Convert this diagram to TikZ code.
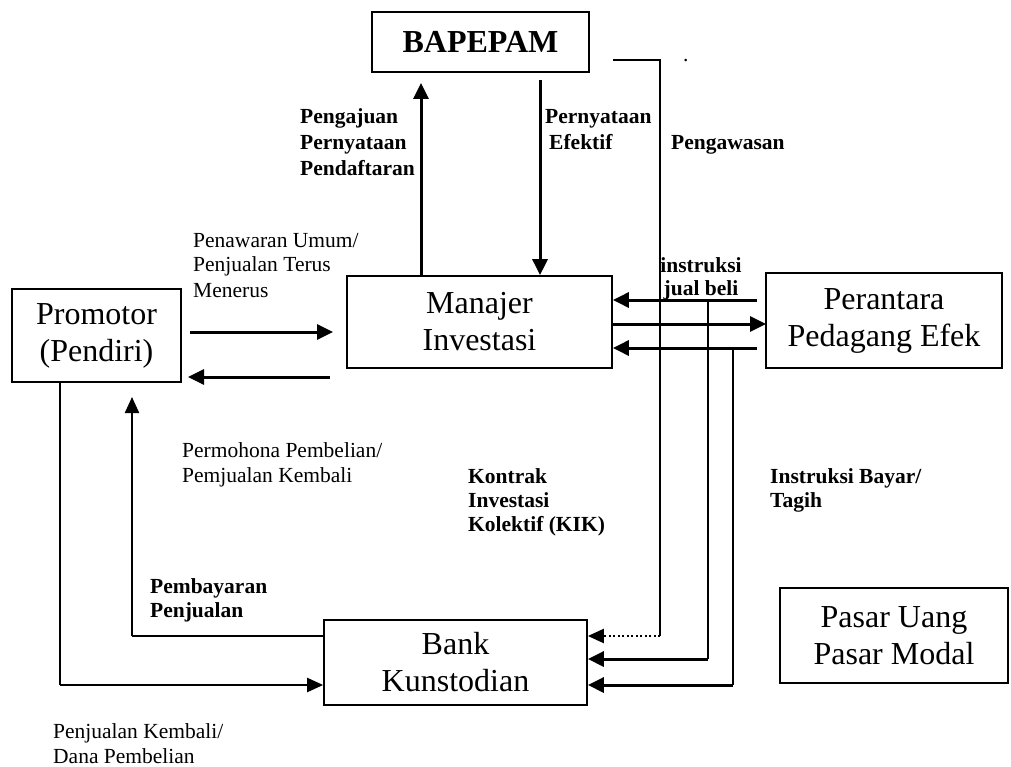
\documentclass[tikz,border=0pt]{standalone}
\usepackage{fontspec}
\setmainfont{Liberation Serif}
\usetikzlibrary{arrows.meta}
\begin{document}
\begin{tikzpicture}[x=1pt,y=-1pt,
 box/.style={draw,line width=1.7pt,inner sep=0pt,font=\fontsize{32}{37}\selectfont,align=center},
 lbl/.style={anchor=base west,align=left,inner sep=0pt,font=\fontsize{21.5}{25}\selectfont},
 blbl/.style={anchor=base west,align=left,inner sep=0pt,font=\fontsize{21.5}{26}\selectfont\bfseries},
 arr/.style={line width=3pt,-{Triangle[length=16pt,width=15pt]}},
 arrt/.style={line width=2.2pt,-{Triangle[length=16pt,width=14pt]}},
 ln/.style={line width=1.9pt},
 dotarr/.style={line width=2.2pt,dash pattern=on 2pt off 2.5pt,-{Triangle[length=16pt,width=14pt]}},
]
\useasboundingbox (0,0) rectangle (1011,767);
% boxes
\node[box,minimum width=217pt,minimum height=60pt] (bapepam) at (480.5,42) {\bfseries BAPEPAM};
\node[box,minimum width=265pt,minimum height=92pt] (manajer) at (479.5,322) {Manajer\\Investasi};
\node[box,minimum width=169pt,minimum height=93pt] (promotor) at (96.5,335.5) {Promotor\\(Pendiri)};
\node[box,minimum width=236pt,minimum height=95pt] (perantara) at (884,320.5) {Perantara\\Pedagang Efek};
\node[box,minimum width=263pt,minimum height=85pt] (bank) at (455.5,662.5) {Bank\\Kunstodian};
\node[box,minimum width=228pt,minimum height=95pt] (pasar) at (894,635.5) {Pasar Uang\\Pasar Modal};
% coordinates
\coordinate (pa) at (421,83);
\coordinate (ea) at (540,80);
\coordinate (w0) at (613,60);
\coordinate (w1) at (660,60);
\coordinate (w2) at (660,636);
\coordinate (r1) at (757,300);
\coordinate (r2) at (612,324);
\coordinate (r2e) at (766,324);
\coordinate (r3) at (757,348);
\coordinate (v1) at (708,659);
\coordinate (v2) at (733,685);
\coordinate (pm1) at (190,332);
\coordinate (pm1e) at (333,332);
\coordinate (pm2) at (330,377);
\coordinate (pm2e) at (188,377);
\coordinate (pb) at (60,685);
\coordinate (py) at (132,636);
\coordinate (pyt) at (132,397);
% BAPEPAM arrows
\draw[arr] (pa |- manajer.north) -- (pa);
\draw[arr] (ea) -- (ea |- manajer.north);
% Pengawasan
\draw[ln] (w0) -- (w1) -- (w2);
\draw[dotarr] (w2) -- (w2 -| bank.east);
% Manajer <-> Perantara
\draw[arr] (r1) -- (r1 -| manajer.east);
\draw[arr] (r2) -- (r2e);
\draw[arr] (r3) -- (r3 -| manajer.east);
% to bank
\draw[ln] (v1 |- r1) -- (v1);
\draw[arr] (v1) -- (v1 -| bank.east);
\draw[ln] (v2 |- r3) -- (v2);
\draw[arr] (v2) -- (v2 -| bank.east);
% Promotor <-> Manajer
\draw[arr] (pm1) -- (pm1e);
\draw[arr] (pm2) -- (pm2e);
% Promotor -> Bank
\draw[ln] (pb |- promotor.south) -- (pb);
\draw[arrt] (pb) -- (pb -| bank.west);
% Bank -> Promotor
\draw[ln] (py -| bank.west) -- (py);
\draw[arrt] (py) -- (pyt);
% labels
\node[lbl] (dot) at (683,62) {.};
\node[lbl] (penawaran) at (193,297) {Penawaran Umum/\\Penjualan Terus\\Menerus};
\node[blbl] (pengajuan) at (300,176) {Pengajuan\\Pernyataan\\Pendaftaran};
\node[blbl] (efektif) at (545,150) {Pernyataan\\\hspace*{4pt}Efektif};
\node[blbl] (pengawasan) at (671,150) {Pengawasan};
\node[blbl,anchor=base,align=center,font=\fontsize{21.5}{23}\selectfont\bfseries] (instruksi) at (701,295) {instruksi\\jual beli};
\node[lbl] (permohona) at (182,482) {Permohona Pembelian/\\Pemjualan Kembali};
\node[blbl,font=\fontsize{21.5}{24}\selectfont\bfseries] (kik) at (468,531) {Kontrak\\Investasi\\Kolektif (KIK)};
\node[blbl,font=\fontsize{21.5}{24}\selectfont\bfseries] (bayar) at (770,507) {Instruksi Bayar/\\Tagih};
\node[blbl,font=\fontsize{21.5}{24}\selectfont\bfseries] (pembayaran) at (150,617) {Pembayaran\\Penjualan};
\node[lbl] (dana) at (53,763) {Penjualan Kembali/\\Dana Pembelian};
\end{tikzpicture}
\end{document}
